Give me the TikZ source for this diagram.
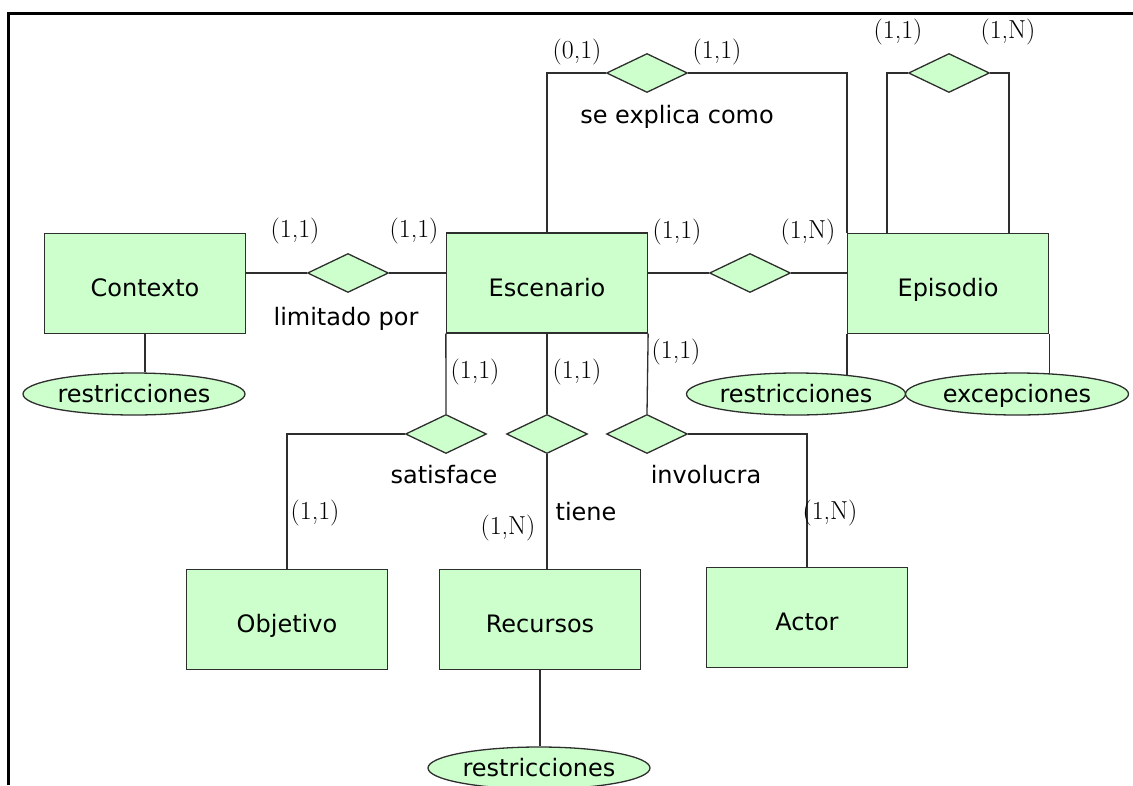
\documentclass[tikz,border=0pt]{standalone}
\usepackage{fontspec}
\newfontfamily\ersans{DejaVu Sans}
\usetikzlibrary{shapes.geometric,backgrounds}
\definecolor{erfill}{HTML}{CCFFCC}
\definecolor{erline}{HTML}{2E2E2E}

\begin{document}
\begin{tikzpicture}[x=1pt,y=-1pt,
    entity/.style={draw=erline, fill=erfill, line width=1.3pt, minimum width=201pt, minimum height=100pt,
        inner sep=0pt, text height=26pt, text depth=0pt, font=\ersans\fontsize{24}{28}\selectfont},
    relation/.style={diamond, draw=erline, fill=erfill, line width=1.3pt, aspect=2,
        minimum width=81pt, minimum height=39pt, inner sep=0pt},
    attrib/.style={ellipse, draw=erline, fill=erfill, line width=1.3pt, minimum width=222pt, minimum height=42pt,
        inner sep=0pt, text height=17pt, text depth=0pt, font=\ersans\fontsize{24}{28}\selectfont},
    card/.style={inner sep=0pt, font=\fontsize{26}{30}\selectfont},
    rname/.style={inner sep=0pt, anchor=base, font=\ersans\fontsize{24}{28}\selectfont},
    link/.style={draw=erline, line width=1.3pt}]
        \useasboundingbox (0,0) rectangle (1133,785);
        \draw[line width=3pt] (8,785) -- (8,13) -- (1133,13);
        % entidades
        \node[entity] (ctx) at (145,283.5) {Contexto};
        \node[entity] (esc) at (547,283) {Escenario};
        \node[entity] (epi) at (948,283.5) {Episodio};
        \node[entity] (obj) at (287,619.5) {Objetivo};
        \node[entity] (recu) at (540,619.5) {Recursos};
        \node[entity] (act) at (807,617.5) {Actor};
        % relaciones
        \node[relation] (lim) at (348,273) {};
        \node[relation] (expl) at (647,73) {};
        \node[relation] (self) at (949,73) {};
        \node[relation] (epirel) at (750,273) {};
        \node[relation] (sat) at (446,434) {};
        \node[relation] (tie) at (547,434) {};
        \node[relation] (inv) at (647,434) {};
        % atributos
        \node[attrib] (ctxres) at (134,394) {restricciones};
        \node[attrib, minimum width=219pt] (epires) at (796,394) {restricciones};
        \node[attrib, minimum width=223pt] (epiexc) at (1017,394) {excepciones};
        \node[attrib] (recres) at (539,768) {restricciones};
        % lineas
        \draw[link] (ctx.east |- lim.west) -- (lim.west);
        \draw[link] (lim.east) -- (lim.east -| esc.west);
        \draw[link] (esc.north) |- (expl.west);
        \draw[link] (expl.east) -| (epi.north west);
        \draw[link] (esc.east |- epirel.west) -- (epirel.west);
        \draw[link] (epirel.east) -- (epirel.east -| epi.west);
        \draw[link] ([xshift=-61pt]epi.north) |- (self.west);
        \draw[link] (self.east) -| ([xshift=61pt]epi.north);
        \draw[link] (esc.south west) -- (sat.north);
        \draw[link] (esc.south) -- (tie.north);
        \draw[link] (esc.south east) -- (inv.north);
        \draw[link] (sat.west) -| (obj.north);
        \draw[link] (tie.south) -- (tie.south |- recu.north);
        \draw[link] (inv.east) -| (act.north);
        \draw[link] (ctx.south) -- (ctx.south |- ctxres.north);
        \draw[link] (recu.south) -- (recu.south |- recres.north);
        \begin{scope}[on background layer]
            \draw[link] (epi.south west) -- (epi.south west |- epires.center);
            \draw[link] (epi.south east) -- (epi.south east |- epiexc.center);
        \end{scope}
        % nombres de relaciones
        \node[rname] (limtxt) at (346,325) {limitado por};
        \node[rname] (expltxt) at (677,123) {se explica como};
        \node[rname] (sattxt) at (444,483) {satisface};
        \node[rname] (tietxt) at (586,520) {tiene};
        \node[rname] (invtxt) at (706,483) {involucra};
        % cardinalidades
        \node[card] at (295,231) {(1,1)};
        \node[card] at (414,231) {(1,1)};
        \node[card] at (577,52) {(0,1)};
        \node[card] at (717,52) {(1,1)};
        \node[card] at (898,32) {(1,1)};
        \node[card] at (1008,32) {(1,N)};
        \node[card] at (677,232) {(1,1)};
        \node[card] at (808,232) {(1,N)};
        \node[card] at (475,372) {(1,1)};
        \node[card] at (577,372) {(1,1)};
        \node[card] at (676,352) {(1,1)};
        \node[card] at (315,513) {(1,1)};
        \node[card] at (508,528) {(1,N)};
        \node[card] at (830,513) {(1,N)};
\end{tikzpicture}
\end{document}
